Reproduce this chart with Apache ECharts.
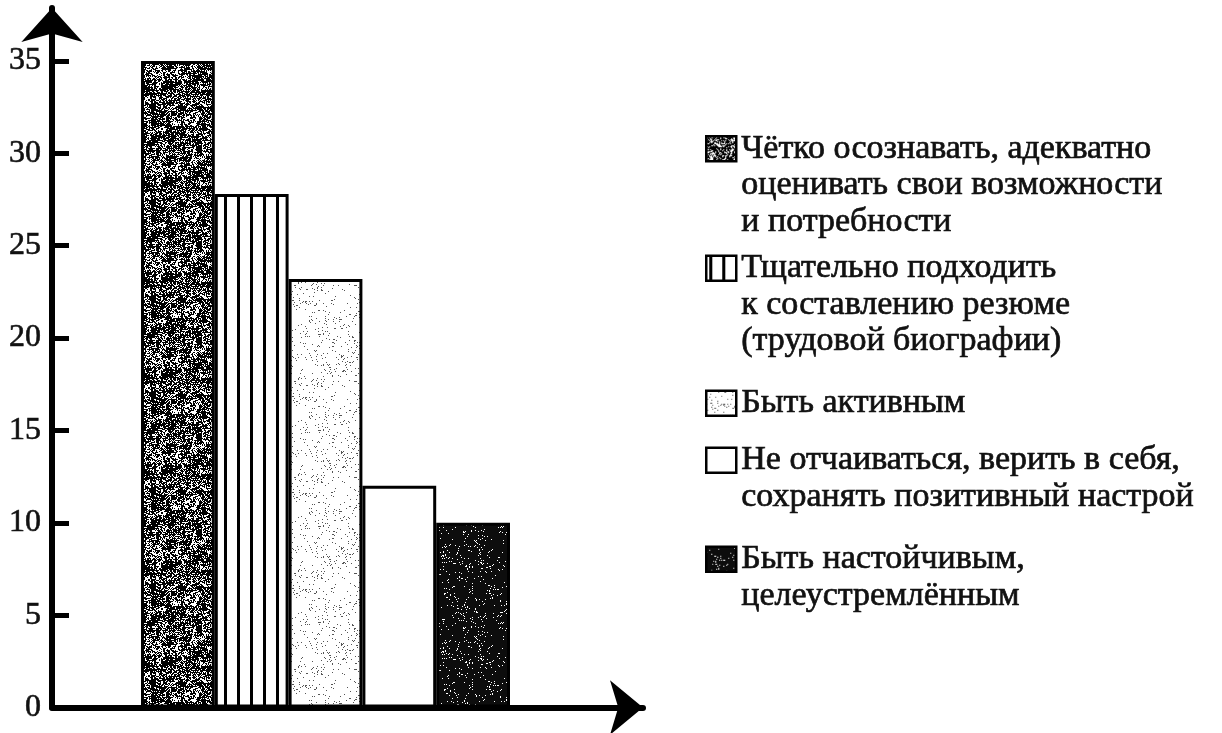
<!DOCTYPE html>
<html>
<head>
<meta charset="utf-8">
<script src="https://cdn.jsdelivr.net/npm/echarts@6/dist/echarts.min.js"></script>
<style>
  html, body { margin: 0; padding: 0; background: #fff; }
  #chart { width: 1222px; height: 733px; }
</style>
</head>
<body>
<div id="chart"></div>
<script>
// ---- data ----
const categories = [
  'Чётко осознавать, адекватно\nоценивать свои возможности\nи потребности',
  'Тщательно подходить\nк составлению резюме\n(трудовой биографии)',
  'Быть активным',
  'Не отчаиваться, верить в себя,\nсохранять позитивный настрой',
  'Быть настойчивым,\nцелеустремлённым'
];
const values = [35, 27.8, 23.2, 12, 10];
const yTicks = [0, 5, 10, 15, 20, 25, 30, 35];

// ---- textures (deterministic) ----
function hash(x, y, s) {
  let h = (x * 374761393 + y * 668265263 + s * 1442695041) | 0;
  h = Math.imul(h ^ (h >>> 13), 1274126177);
  h = h ^ (h >>> 16);
  return (h >>> 0) / 4294967296;
}
function speckle(size, pLow, pHigh, dot, bg, seed, cell) {
  const c = document.createElement('canvas');
  c.width = size; c.height = size;
  const g = c.getContext('2d');
  g.fillStyle = bg; g.fillRect(0, 0, size, size);
  g.fillStyle = dot;
  for (let y = 0; y < size; y++) {
    for (let x = 0; x < size; x++) {
      const coarse = hash(Math.floor(x / cell), Math.floor(y / cell), seed + 100);
      const p = pLow + (pHigh - pLow) * coarse;
      if (hash(x, y, seed) < p) g.fillRect(x, y, 1, 1);
    }
  }
  return { image: c, repeat: 'repeat' };
}
function stripes() {
  const c = document.createElement('canvas');
  c.width = 13; c.height = 8;
  const g = c.getContext('2d');
  g.fillStyle = '#fff'; g.fillRect(0, 0, 13, 8);
  g.fillStyle = '#000'; g.fillRect(3, 0, 3, 8);
  return { image: c, repeat: 'repeat' };
}
const fills = [
  speckle(96, 0.4, 0.92, '#000', '#fff', 1, 5),
  stripes(),
  speckle(96, 0.0, 0.12, '#555', '#fff', 3, 6),
  '#fff',
  speckle(96, 0.0, 0.1, '#fff', '#0d0d0d', 5, 6)
];

// ---- layout ----
const font = 'Liberation Serif';
const fs = 34;
const lh = 36.5;
const legendCenters = [147.5, 267, 402, 459, 558];

const legends = categories.map((name, i) => {
  const n = name.split('\n').length;
  return {
    data: [name],
    left: 705,
    top: legendCenters[i] - (n - 1) * lh - fs / 2,
    orient: 'vertical',
    padding: 0,
    itemWidth: 30,
    itemHeight: 25,
    itemGap: 0,
    selectedMode: false,
    icon: 'rect',
    formatter: (nm) => '\n'.repeat(n - 1) + nm,
    itemStyle: { borderColor: '#000', borderWidth: 2.5 },
    textStyle: {
      fontFamily: font,
      fontSize: fs,
      lineHeight: lh,
      color: '#111',
      textBorderColor: '#111',
      textBorderWidth: 0.7
    }
  };
});

const chart = echarts.init(document.getElementById('chart'));
chart.setOption({
  animation: false,
  backgroundColor: '#fff',
  legend: legends,
  grid: [
    { left: 52, right: 579, top: 8, bottom: 25.5, outerBoundsMode: 'none' },
    { left: 141, right: 712, top: 8, bottom: 25.5, outerBoundsMode: 'none' }
  ],
  xAxis: [
    {
      gridIndex: 0, type: 'value', min: 0, max: 1,
      axisLine: { show: true, onZero: true, symbol: ['none', 'arrow'], symbolSize: [41, 33],
                  lineStyle: { color: '#000', width: 6 } },
      axisTick: { show: false }, axisLabel: { show: false }, splitLine: { show: false }
    },
    {
      gridIndex: 1, type: 'category', data: [''], show: false
    }
  ],
  yAxis: [
    {
      gridIndex: 0, type: 'value', min: 0, max: 37.87,
      axisLine: { show: true, symbol: ['none', 'arrow'], symbolSize: [46, 34],
                  lineStyle: { color: '#000', width: 6 } },
      axisTick: { show: true, inside: true, length: 17, customValues: yTicks,
                  lineStyle: { color: '#000', width: 5 } },
      axisLabel: { show: true, customValues: yTicks, margin: 11, padding: [9, 0, 0, 0],
                   fontFamily: font, fontSize: 32, color: '#111',
                   textBorderColor: '#111', textBorderWidth: 0.6 },
      splitLine: { show: false }
    },
    {
      gridIndex: 1, type: 'value', min: 0, max: 37.87, show: false, splitLine: { show: false }
    }
  ],
  series: categories.map((name, i) => ({
    type: 'bar',
    name: name,
    xAxisIndex: 1,
    yAxisIndex: 1,
    data: [values[i]],
    barGap: '0%',
    barCategoryGap: '0%',
    itemStyle: { color: fills[i], borderColor: '#000', borderWidth: 3 },
    emphasis: { disabled: true }
  }))
});
</script>
</body>
</html>
